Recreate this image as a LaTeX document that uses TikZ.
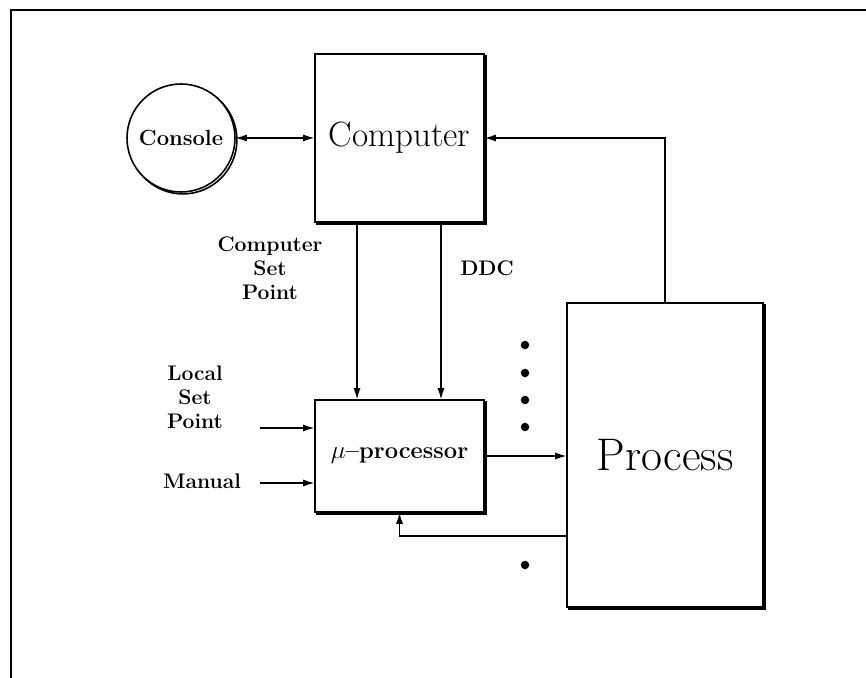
\documentclass[tikz,border=0pt]{standalone}
\usepackage{tikz}
\usetikzlibrary{arrows.meta, positioning, shapes.geometric, shadows}

\begin{document}
\begin{tikzpicture}[
  x=0.02cm, y=-0.02cm,
  box/.style     = {draw, fill=white, line width=0.9pt, inner sep=0pt,
                    copy shadow={shadow xshift=1.1pt, shadow yshift=-1.1pt}},
  arrow/.style   = {-{Latex[length=2.2mm,width=1.4mm]}, line width=0.7pt},
  biarrow/.style = {{Latex[length=2.2mm,width=1.4mm]}-{Latex[length=2.2mm,width=1.4mm]}, line width=0.7pt},
  caption/.style = {align=center, font=\fontsize{12}{13.6}\selectfont\bfseries},
  dot/.style     = {circle, fill, inner sep=0pt, minimum size=0.17cm},
]
\useasboundingbox (0,0) rectangle (866,678);

% frame
\draw[line width=0.6pt] (11,678) -- (11,10) -- (866,10);

% blocks
\node[box, circle, minimum size=2.16cm, caption,
      font=\fontsize{12.5}{14}\selectfont\bfseries] (console)  at (181,138) {Console};
\node[box, minimum width=3.38cm, minimum height=3.36cm,
      font=\fontsize{20}{24}\selectfont]          (computer) at (399.5,138) {Computer};
\node[box, minimum width=3.38cm, minimum height=2.24cm,
      font=\fontsize{13.5}{16}\selectfont\bfseries] (uproc)  at (399.5,456) {$\mu$--processor};
\node[box, minimum width=3.92cm, minimum height=6.08cm,
      font=\fontsize{26}{30}\selectfont]          (process)  at (665,455) {Process};

% labels
\node[caption] (csp)    at (270,268) {Computer\\Set\\Point};
\node[caption] (ddc)    at (487,268) {DDC};
\node[caption] (lsplbl) at (195,397) {Local\\Set\\Point};
\node[caption] (manlbl) at (202,481) {Manual};

% free ends of the inputs
\coordinate (lsp) at (260,428);
\coordinate (man) at (260,483);

% dots
\foreach \y [count=\i] in {345,373,400,427,565}
  \node[dot] (dot\i) at (525,\y) {};

% connections
\draw[biarrow] (console) -- (computer);
\draw[arrow] (process.north) |- (computer.east);
\draw[arrow] ([xshift=-0.85cm]computer.south) -- ([xshift=-0.85cm]uproc.north);
\draw[arrow] ([xshift=0.83cm]computer.south) -- ([xshift=0.83cm]uproc.north);
\draw[arrow] (uproc.east) -- (uproc.east -| process.west);
\draw[arrow] ([yshift=-1.62cm]process.west) -| (uproc.south);
\draw[arrow] (lsp) -- (lsp -| uproc.west);
\draw[arrow] (man) -- (man -| uproc.west);

\end{tikzpicture}
\end{document}
